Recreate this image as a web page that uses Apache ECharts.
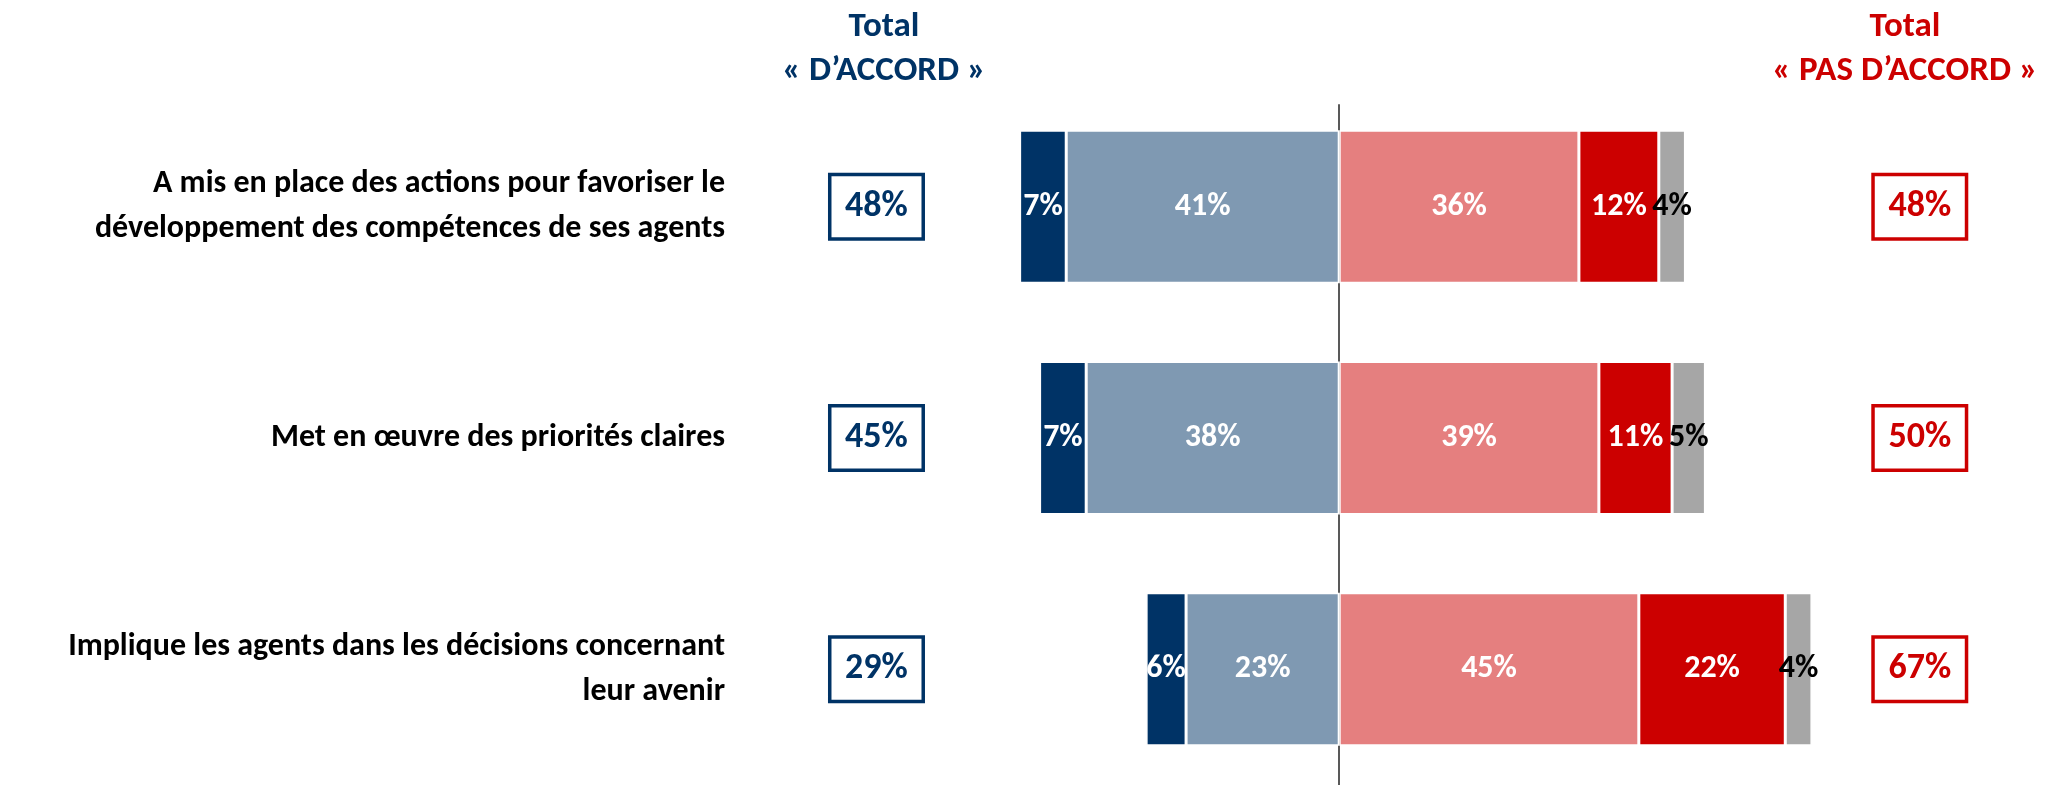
<!DOCTYPE html>
<html lang="fr">
<head>
<meta charset="utf-8">
<title>Total d'accord / pas d'accord</title>
<script src="https://cdn.jsdelivr.net/npm/echarts@6/dist/echarts.min.js"></script>
<style>
  html, body { margin: 0; padding: 0; background: #ffffff; }
  #chart { width: 2058px; height: 785px; }
</style>
</head>
<body>
<div id="chart"></div>
<script>
// Statements, top to bottom
const categories = [
  "A mis en place des actions pour favoriser le\ndéveloppement des compétences de ses agents",
  "Met en œuvre des priorités claires",
  "Implique les agents dans les décisions concernant\nleur avenir"
];
// Answer shares (%)
const toutAFaitAccord = [7, 7, 6];
const plutotAccord = [41, 38, 23];
const plutotPasAccord = [36, 39, 45];
const pasDuToutAccord = [12, 11, 22];
const nsp = [4, 5, 4];

const totalAccord = categories.map((_, i) => toutAFaitAccord[i] + plutotAccord[i]);
const totalPasAccord = categories.map((_, i) => plutotPasAccord[i] + pasDuToutAccord[i]);

const FONT = 'Carlito, "Liberation Sans Narrow", "Open Sans", sans-serif';
const NAVY = '#003366';
const RED = '#CC0000';

// x positions (axis units) of the two total boxes
const BOX_LEFT_X = -69.5;
const BOX_RIGHT_X = 87.2;

function barSeries(name, values, color, sign, labelColor) {
  return {
    name: name,
    type: 'bar',
    stack: 'total',
    barWidth: 153,
    xAxisIndex: 0,
    yAxisIndex: 0,
    data: values.map(v => sign * v),
    itemStyle: { color: color, borderColor: '#ffffff', borderWidth: 1.5 },
    label: {
      show: true,
      position: 'inside',
      formatter: p => Math.abs(p.value) + '%',
      color: labelColor,
      textBorderWidth: 0,
      fontFamily: FONT,
      fontWeight: 'bold',
      fontSize: 32
    },
    emphasis: { disabled: true },
    silent: true
  };
}

function boxSeries(xPos, totals, color) {
  return {
    type: 'scatter',
    xAxisIndex: 0,
    yAxisIndex: 0,
    symbolSize: 0,
    itemStyle: { opacity: 1, color: color },
    data: totals.map((t, i) => [xPos, i, t]),
    label: {
      show: true,
      position: 'inside',
      formatter: p => p.value[2] + '%',
      color: color,
      opacity: 1,
      textBorderWidth: 0,
      textBorderColor: 'transparent',
      fontFamily: FONT,
      fontWeight: 'bold',
      fontSize: 36,
      width: 90,
      height: 61,
      lineHeight: 61,
      align: 'center',
      verticalAlign: 'middle',
      borderColor: color,
      borderWidth: 3.5,
      backgroundColor: '#ffffff'
    },
    emphasis: { disabled: true },
    silent: true
  };
}

const chart = echarts.init(document.getElementById('chart'), null, { renderer: 'canvas' });

chart.setOption({
  animation: false,
  backgroundColor: '#ffffff',
  title: [
    {
      text: 'Total\n« D\u2019ACCORD »',
      left: 879,
      top: 0,
      textAlign: 'center',
      textStyle: { color: NAVY, fontFamily: FONT, fontWeight: 'bold', fontSize: 35, lineHeight: 44 }
    },
    {
      text: 'Total\n« PAS D\u2019ACCORD »',
      left: 1900,
      top: 0,
      textAlign: 'center',
      textStyle: { color: RED, fontFamily: FONT, fontWeight: 'bold', fontSize: 35, lineHeight: 44 }
    }
  ],
  grid: [
    { left: 740, width: 1265, top: 91, bottom: 0, containLabel: false },
    { left: 740, width: 1265, top: 105, bottom: 0, containLabel: false }
  ],
  xAxis: [
    { type: 'value', gridIndex: 0, min: -90, max: 100, show: false },
    { type: 'value', gridIndex: 1, min: -90, max: 100, show: false }
  ],
  yAxis: [
    {
      type: 'category',
      gridIndex: 0,
      data: categories,
      inverse: true,
      axisLine: { show: false, onZero: false },
      axisTick: { show: false },
      splitLine: { show: false },
      axisLabel: {
        margin: 15,
        color: '#000000',
        fontFamily: FONT,
        fontWeight: 'bold',
        fontSize: 32,
        lineHeight: 45,
        align: 'right'
      }
    },
    {
      // centre divider at 0 %
      type: 'value',
      gridIndex: 1,
      min: 0,
      max: 1,
      axisLine: { show: true, onZero: true, lineStyle: { color: '#595959', width: 2 } },
      axisTick: { show: false },
      axisLabel: { show: false },
      splitLine: { show: false }
    }
  ],
  series: [
    barSeries("Plutôt d'accord", plutotAccord, '#7F99B2', -1, '#ffffff'),
    barSeries("Tout à fait d'accord", toutAFaitAccord, NAVY, -1, '#ffffff'),
    barSeries("Plutôt pas d'accord", plutotPasAccord, '#E57F7F', 1, '#ffffff'),
    barSeries("Pas du tout d'accord", pasDuToutAccord, RED, 1, '#ffffff'),
    barSeries('Ne se prononce pas', nsp, '#A6A6A6', 1, '#000000'),
    boxSeries(BOX_LEFT_X, totalAccord, NAVY),
    boxSeries(BOX_RIGHT_X, totalPasAccord, RED)
  ]
});
</script>
</body>
</html>
